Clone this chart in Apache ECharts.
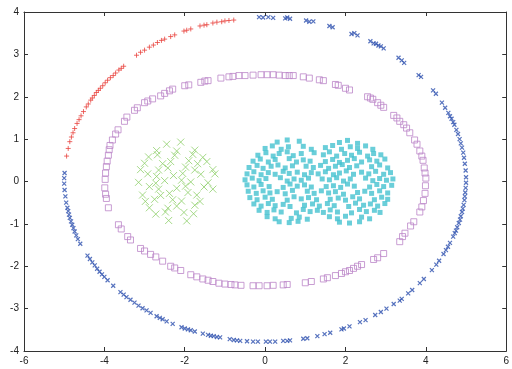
<!DOCTYPE html>
<html>
<head>
<meta charset="utf-8">
<script src="https://cdn.jsdelivr.net/npm/echarts@6/dist/echarts.min.js"></script>
<style>
  html, body { margin: 0; padding: 0; background: #fff; }
  #chart { width: 512px; height: 369px; }
</style>
</head>
<body>
<div id="chart"></div>
<script>
// Axis ranges and ticks
const xTicks = { min: -6, max: 6, step: 2 };
const yTicks = { min: -4, max: 4, step: 1 };

// Outer ring, upper-left arc (plus markers)
const ringArcPlus = [
  [-0.78,3.81],[-0.9,3.8],[-1.0,3.79],[-1.08,3.77],[-1.2,3.76],[-1.3,3.74],[-1.45,3.7],[-1.52,3.69],
  [-1.62,3.67],[-1.85,3.6],[-1.95,3.57],[-2.02,3.55],[-2.25,3.46],[-2.35,3.42],[-2.5,3.36],[-2.58,3.33],
  [-2.68,3.28],[-2.78,3.22],[-2.88,3.17],[-3.0,3.1],[-3.1,3.05],[-3.2,2.98],[-3.52,2.72],[-3.58,2.67],
  [-3.64,2.63],[-3.72,2.56],[-3.78,2.5],[-3.85,2.45],[-3.92,2.39],[-3.98,2.33],[-4.04,2.26],[-4.1,2.2],
  [-4.15,2.15],[-4.2,2.1],[-4.25,2.03],[-4.3,1.97],[-4.34,1.92],[-4.4,1.83],[-4.45,1.76],[-4.52,1.65],
  [-4.58,1.55],[-4.63,1.46],[-4.68,1.37],[-4.74,1.25],[-4.78,1.15],[-4.82,1.05],[-4.86,0.94],[-4.9,0.78],
  [-4.94,0.6]
];

// Outer ring, remaining arc (cross markers)
const ringArcCross = [
  [-0.15,3.88],[-0.05,3.87],[0.08,3.88],[0.2,3.86],[0.5,3.85],[0.55,3.87],[0.62,3.84],[1.02,3.8],
  [1.1,3.77],[1.2,3.78],[1.6,3.67],[1.68,3.64],[2.15,3.48],[2.22,3.5],[2.3,3.45],[2.62,3.31],
  [2.7,3.26],[2.76,3.25],[2.82,3.21],[2.88,3.19],[2.95,3.14],[3.32,2.92],[3.4,2.86],[3.46,2.8],
  [3.82,2.51],[3.88,2.47],[4.18,2.15],[4.25,2.07],[4.4,1.86],[4.48,1.74],[4.56,1.62],[4.6,1.54],
  [4.64,1.48],[4.68,1.4],[4.71,1.34],[4.76,1.22],[4.8,1.12],[4.84,1.0],[4.87,0.9],[4.9,0.8],
  [4.93,0.68],[4.95,0.56],[4.97,0.42],[4.99,0.26],[5.0,0.1],
  [5.0,-0.03],[4.99,-0.15],[4.98,-0.26],[4.97,-0.35],[4.96,-0.44],[4.94,-0.55],[4.92,-0.64],[4.9,-0.72],
  [4.87,-0.82],[4.85,-0.9],[4.82,-0.98],[4.78,-1.08],[4.75,-1.16],[4.72,-1.22],[4.68,-1.3],[4.6,-1.45],
  [4.55,-1.54],[4.5,-1.62],[4.44,-1.71],[4.33,-1.87],[4.26,-1.96],[4.15,-2.09],[3.95,-2.3],[3.85,-2.4],
  [3.66,-2.56],[3.56,-2.64],[3.4,-2.77],[3.35,-2.81],[3.2,-2.89],[3.02,-3.0],[2.88,-3.08],[2.74,-3.15],
  [2.5,-3.27],[2.36,-3.32],[2.1,-3.42],[1.96,-3.47],[1.9,-3.49],[1.62,-3.57],[1.48,-3.6],[1.3,-3.65],
  [1.05,-3.7],[0.95,-3.71],[0.62,-3.75],[0.55,-3.76],[0.45,-3.76],[0.25,-3.78],[0.12,-3.78],[0.02,-3.78],
  [-0.18,-3.78],[-0.3,-3.78],[-0.45,-3.77],[-0.62,-3.76],[-0.7,-3.75],[-0.78,-3.74],[-0.88,-3.72],[-1.12,-3.68],
  [-1.2,-3.67],[-1.28,-3.65],[-1.35,-3.64],[-1.42,-3.62],[-1.55,-3.59],[-1.75,-3.54],[-1.85,-3.51],[-1.92,-3.49],
  [-2.0,-3.47],[-2.08,-3.44],[-2.3,-3.36],[-2.45,-3.3],[-2.55,-3.25],[-2.62,-3.22],[-2.7,-3.18],[-2.85,-3.1],
  [-2.95,-3.04],[-3.05,-2.99],[-3.15,-2.93],[-3.25,-2.86],[-3.35,-2.79],[-3.45,-2.73],[-3.52,-2.67],[-3.6,-2.61],
  [-3.78,-2.46],[-3.92,-2.33],[-4.0,-2.25],[-4.06,-2.19],[-4.12,-2.13],[-4.18,-2.06],[-4.24,-1.98],[-4.3,-1.91],
  [-4.36,-1.83],[-4.42,-1.75],[-4.6,-1.47],[-4.66,-1.36],[-4.7,-1.27],[-4.74,-1.18],[-4.77,-1.1],[-4.8,-1.02],
  [-4.83,-0.94],[-4.86,-0.86],[-4.88,-0.78],[-4.9,-0.7],[-4.92,-0.62],[-4.95,-0.5],[-4.97,-0.35],[-4.99,-0.2],
  [-5.0,-0.05],[-5.0,0.08],[-4.99,0.2]
];

// Middle ring (open squares)
const middleRing = [
  [-3.98,0.05],[-3.97,0.2],[-3.95,0.35],[-3.93,0.48],[-3.9,0.62],[-3.88,0.75],[-3.86,0.85],[-3.8,0.98],
  [-3.72,1.12],[-3.66,1.22],[-3.5,1.42],[-3.44,1.52],[-3.25,1.68],[-3.18,1.74],[-3.0,1.86],[-2.92,1.9],
  [-2.8,1.95],[-2.6,2.02],[-2.5,2.08],[-2.38,2.14],[-2.3,2.18],[-2.0,2.26],[-1.9,2.28],[-1.6,2.34],
  [-1.5,2.37],[-1.42,2.38],[-1.1,2.44],[-0.9,2.47],[-0.8,2.48],[-0.65,2.5],[-0.5,2.5],[-0.3,2.51],
  [-0.1,2.52],[0.05,2.52],[0.2,2.52],[0.35,2.51],[0.5,2.5],[0.6,2.5],[0.7,2.5],[0.95,2.47],
  [1.1,2.44],[1.35,2.4],[1.45,2.38],[1.75,2.29],[1.82,2.27],[2.0,2.2],[2.1,2.16],[2.55,2.0],
  [2.62,1.97],[2.68,1.94],[2.8,1.86],[2.88,1.8],[2.95,1.75],[3.2,1.56],[3.28,1.5],[3.35,1.42],
  [3.45,1.34],[3.52,1.26],[3.6,1.15],[3.72,0.98],[3.78,0.88],[3.85,0.72],[3.9,0.6],[3.93,0.5],
  [3.96,0.32],[3.98,0.2],[4.0,0.08],
  [3.99,-0.1],[3.98,-0.28],[3.94,-0.45],[3.9,-0.6],[3.85,-0.72],[3.7,-0.95],[3.62,-1.05],[3.48,-1.22],
  [3.42,-1.3],[3.35,-1.42],[2.95,-1.7],[2.8,-1.8],[2.7,-1.84],[2.4,-1.96],[2.3,-2.0],[2.2,-2.05],
  [2.1,-2.1],[2.0,-2.13],[1.9,-2.17],[1.75,-2.22],[1.55,-2.27],[1.45,-2.3],[1.15,-2.36],[1.0,-2.39],
  [0.55,-2.43],[0.45,-2.44],[0.2,-2.45],[0.05,-2.46],[-0.15,-2.46],[-0.3,-2.46],
  [-0.6,-2.45],[-0.75,-2.44],[-0.85,-2.43],[-1.0,-2.42],[-1.15,-2.4],[-1.3,-2.36],[-1.42,-2.33],[-1.55,-2.3],
  [-1.7,-2.25],[-1.85,-2.2],[-2.1,-2.1],[-2.25,-2.04],[-2.35,-2.0],[-2.55,-1.88],[-2.72,-1.78],[-2.85,-1.72],
  [-3.0,-1.64],[-3.1,-1.58],[-3.35,-1.38],[-3.42,-1.3],[-3.58,-1.12],[-3.65,-1.02],[-3.9,-0.62],[-3.95,-0.4],
  [-3.97,-0.3],[-3.99,-0.15]
];

// Left cluster (cross markers)
const leftCluster = [
  [-2.45,0.88],[-2.1,0.93],
  [-2.7,0.73],[-2.2,0.72],[-1.75,0.74],
  [-2.9,0.58],[-2.68,0.63],[-2.25,0.62],[-1.8,0.64],[-1.55,0.57],
  [-3.0,0.43],[-2.55,0.42],[-2.35,0.47],[-1.9,0.49],[-1.68,0.42],[-1.45,0.47],
  [-3.1,0.28],[-2.65,0.27],[-2.42,0.32],[-1.98,0.34],[-1.75,0.27],[-1.3,0.28],
  [-2.92,0.18],[-2.7,0.12],[-2.28,0.14],[-2.05,0.19],[-1.6,0.17],[-1.25,0.18],
  [-3.15,-0.02],[-2.72,-0.04],[-2.5,0.02],[-2.08,0.03],[-1.85,-0.01],[-1.42,-0.03],
  [-2.88,-0.12],[-2.65,-0.18],[-2.2,-0.16],[-1.98,-0.11],[-1.52,-0.13],[-1.3,-0.18],
  [-3.05,-0.32],[-2.6,-0.33],[-2.38,-0.28],[-1.92,-0.26],[-1.7,-0.32],
  [-2.98,-0.47],[-2.75,-0.42],[-2.3,-0.43],[-2.08,-0.46],[-1.62,-0.47],
  [-2.88,-0.62],[-2.42,-0.63],[-2.2,-0.58],[-1.75,-0.56],
  [-2.72,-0.77],[-2.48,-0.72],[-2.02,-0.73],[-1.78,-0.76],
  [-2.4,-0.92],[-1.95,-0.93]
];

// Right double cluster (filled squares)
const rightCluster = [
  [0.3,0.93],[0.55,0.98],[0.85,0.95],[1.85,0.92],[2.05,0.97],[2.3,0.9],
  [0.0,0.78],[0.18,0.84],[0.4,0.76],[0.58,0.82],[0.95,0.83],[1.15,0.76],
  [1.5,0.8],[1.68,0.85],[1.9,0.76],[2.12,0.82],[2.3,0.78],[2.5,0.84],[2.68,0.76],
  [-0.18,0.62],[0.02,0.68],[0.2,0.6],[0.35,0.66],[0.55,0.7],[0.7,0.61],[0.9,0.66],[1.22,0.68],
  [1.45,0.63],[1.6,0.7],[1.78,0.6],[1.98,0.66],[2.15,0.62],[2.35,0.69],[2.55,0.6],[2.7,0.66],[2.88,0.63],
  [-0.3,0.48],[-0.12,0.53],[0.08,0.46],[0.25,0.52],[0.6,0.54],[0.78,0.46],[0.95,0.51],[1.12,0.48],
  [1.5,0.47],[1.68,0.52],[1.85,0.45],[2.05,0.5],[2.22,0.54],[2.4,0.46],[2.6,0.51],[2.78,0.48],[2.98,0.53],
  [-0.4,0.33],[-0.2,0.38],[-0.05,0.31],[0.15,0.36],[0.32,0.39],[0.5,0.32],[0.68,0.37],[1.02,0.36],[1.2,0.33],
  [1.38,0.38],[1.58,0.31],[1.75,0.36],[1.92,0.4],[2.1,0.33],[2.28,0.37],[2.65,0.35],[2.85,0.39],[3.05,0.32],
  [-0.45,0.18],[-0.28,0.23],[-0.1,0.16],[0.08,0.21],[0.25,0.17],[0.45,0.24],[0.6,0.19],[0.8,0.22],[0.98,0.16],[1.15,0.21],
  [1.32,0.18],[1.5,0.23],[1.7,0.16],[1.85,0.2],[2.02,0.25],[2.2,0.17],[2.4,0.22],[2.58,0.18],[2.75,0.24],[2.95,0.17],[3.12,0.21],
  [-0.5,0.04],[-0.32,0.08],[-0.15,0.02],[0.02,0.07],[0.38,0.09],[0.55,0.01],[0.72,0.06],[0.9,0.03],[1.08,0.08],
  [1.42,0.06],[1.6,0.04],[1.78,0.09],[1.95,0.01],[2.12,0.06],[2.5,0.08],[2.68,0.02],[2.85,0.07],[3.02,0.03],[3.18,0.06],
  [-0.45,-0.08],[-0.28,-0.13],[-0.1,-0.07],[0.1,-0.12],[0.45,-0.14],[0.62,-0.06],[0.8,-0.11],[0.98,-0.08],[1.15,-0.13],
  [1.52,-0.12],[1.7,-0.1],[1.88,-0.14],[2.05,-0.06],[2.22,-0.11],[2.6,-0.13],[2.78,-0.07],[2.95,-0.12],[3.15,-0.09],
  [-0.42,-0.23],[-0.22,-0.28],[-0.05,-0.22],[0.12,-0.27],[0.3,-0.24],[0.5,-0.29],[0.68,-0.21],[1.05,-0.23],[1.22,-0.28],
  [1.4,-0.22],[1.58,-0.27],[1.75,-0.24],[1.95,-0.3],[2.3,-0.26],[2.48,-0.23],[2.65,-0.28],[2.85,-0.22],[3.05,-0.27],
  [-0.38,-0.38],[-0.2,-0.43],[0.0,-0.37],[0.18,-0.42],[0.55,-0.44],[0.72,-0.36],[0.9,-0.41],[1.08,-0.38],[1.28,-0.43],
  [1.62,-0.42],[1.82,-0.39],[2.0,-0.44],[2.18,-0.36],[2.35,-0.41],[2.72,-0.43],[2.9,-0.37],[3.05,-0.42],
  [-0.28,-0.53],[-0.1,-0.58],[0.08,-0.52],[0.25,-0.57],[0.45,-0.54],[0.62,-0.59],[0.98,-0.56],[1.18,-0.53],[1.35,-0.58],
  [1.55,-0.52],[1.72,-0.57],[2.08,-0.59],[2.25,-0.51],[2.45,-0.56],[2.62,-0.53],[2.8,-0.58],[2.98,-0.52],
  [-0.15,-0.68],[0.05,-0.73],[0.22,-0.67],[0.4,-0.72],[0.78,-0.74],[0.95,-0.66],[1.12,-0.71],[1.3,-0.68],
  [1.45,-0.73],[1.62,-0.67],[1.8,-0.72],[2.15,-0.74],[2.35,-0.66],[2.52,-0.71],[2.72,-0.68],[2.86,-0.73],
  [0.05,-0.83],[0.25,-0.88],[0.65,-0.87],[0.85,-0.84],[1.05,-0.89],
  [1.6,-0.83],[1.8,-0.88],[2.0,-0.82],[2.4,-0.84],[2.6,-0.88],
  [0.35,-0.95],[0.6,-0.97],[0.82,-0.94],[1.85,-0.96],[2.1,-0.98],[2.35,-0.95]
];

const CROSS = 'path://M0,0L10,10M0,10L10,0';
const PLUS = 'path://M5,0L5,10M0,5L10,5';
const AXIS_COLOR = '#333';

function valueAxis(r, position, showLabels) {
  return {
    type: 'value', position: position,
    min: r.min, max: r.max, interval: r.step,
    axisLine: { show: true, onZero: false, lineStyle: { color: AXIS_COLOR, width: 1 } },
    axisTick: { show: true, inside: true, length: 4, lineStyle: { color: AXIS_COLOR } },
    axisLabel: { show: showLabels, color: '#222', fontSize: 10, fontFamily: 'Liberation Sans, Arial, sans-serif', margin: 5 },
    splitLine: { show: false }
  };
}

function strokeSeries(data, symbol, size, color, width) {
  return {
    type: 'scatter', data: data, symbol: symbol, symbolSize: size,
    itemStyle: { color: 'rgba(0,0,0,0)', borderColor: color, borderWidth: width },
    emphasis: { disabled: true }
  };
}

const chart = echarts.init(document.getElementById('chart'), null, { renderer: 'canvas' });
chart.setOption({
  animation: false,
  backgroundColor: '#fff',
  grid: { left: 24, right: 2, top: 12, bottom: 18, containLabel: false },
  xAxis: [valueAxis(xTicks, 'bottom', true), valueAxis(xTicks, 'top', false)],
  yAxis: [valueAxis(yTicks, 'left', true), valueAxis(yTicks, 'right', false)],
  series: [
    strokeSeries(middleRing, 'rect', 6, '#bb86c8', 1),
    strokeSeries(ringArcPlus, PLUS, 5, '#e8443e', 1),
    strokeSeries(ringArcCross, CROSS, 4, '#2c4fae', 1.2),
    strokeSeries(leftCluster, CROSS, 7, '#8fcf6a', 1),
    {
      type: 'scatter', data: rightCluster, symbol: 'rect', symbolSize: 5,
      itemStyle: { color: '#45c2cf' }, emphasis: { disabled: true }
    }
  ]
});
</script>
</body>
</html>
